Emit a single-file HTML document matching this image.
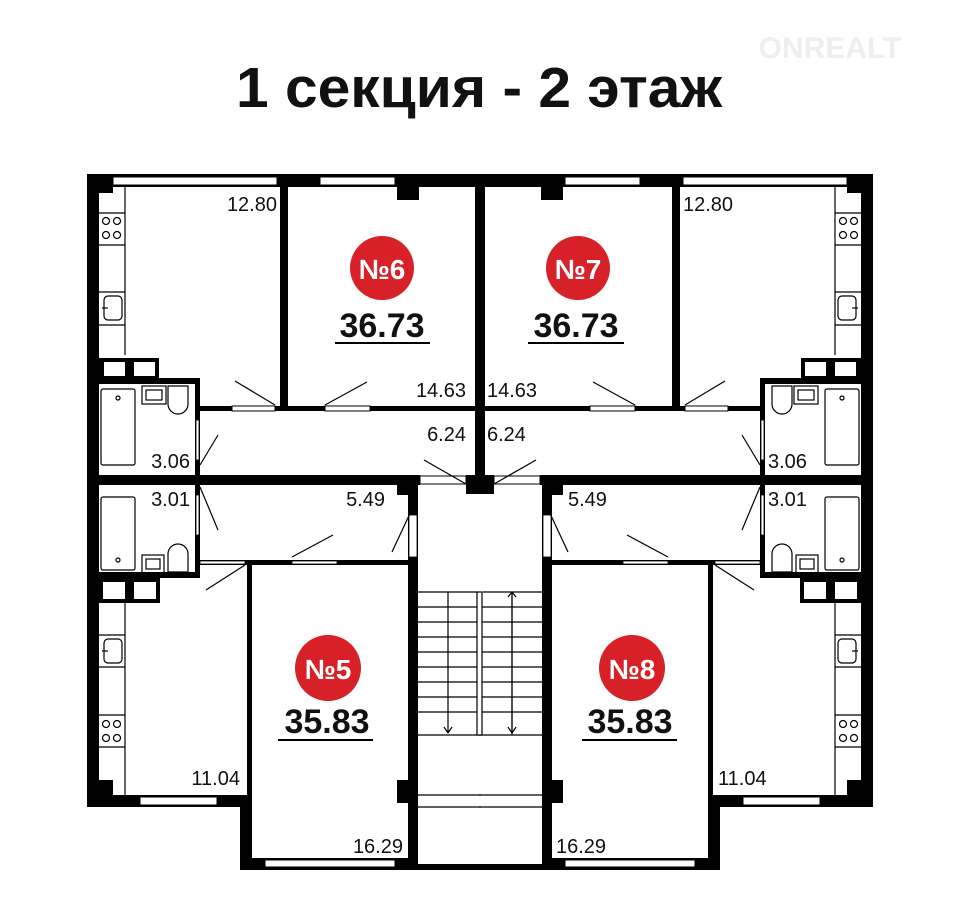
<!DOCTYPE html>
<html><head><meta charset="utf-8"><style>
html,body{margin:0;padding:0;background:#fff;}
svg{display:block;}
text{font-family:"Liberation Sans",sans-serif;}
</style></head><body>
<svg width="960" height="910" viewBox="0 0 960 910" xmlns="http://www.w3.org/2000/svg">
<rect width="960" height="910" fill="#fff"/>
<text x="479" y="107" text-anchor="middle" font-size="57" font-weight="bold" fill="#111" textLength="486" lengthAdjust="spacingAndGlyphs">1 секция - 2 этаж</text>
<text x="830" y="58" text-anchor="middle" font-size="30" font-weight="bold" fill="#eee">ONREALT</text>

<defs>
<g id="half" fill="#000" stroke="none">
  <rect x="87" y="174" width="394" height="13"/>
  <rect x="113" y="177" width="164" height="8" fill="#fff" stroke="#000" stroke-width="1"/>
  <rect x="320" y="177" width="75" height="8" fill="#fff" stroke="#000" stroke-width="1"/>
  <rect x="87" y="174" width="26" height="19"/>
  <rect x="397" y="174" width="22" height="26"/>
  <rect x="87" y="174" width="12" height="633"/>
  <rect x="280" y="174" width="8" height="236"/>
  <rect x="475" y="174" width="6" height="320"/>
  <rect x="466" y="475" width="15" height="19"/>
  <rect x="198" y="406" width="277" height="5"/>
  <rect x="232" y="406" width="43" height="5" fill="#fff" stroke="#000" stroke-width="1"/>
  <rect x="325" y="406" width="45" height="5" fill="#fff" stroke="#000" stroke-width="1"/>
  <rect x="87" y="475" width="333" height="10"/>
  <rect x="420" y="476" width="46" height="8" fill="#fff" stroke="#000" stroke-width="1"/>
  <rect x="99" y="358" width="60" height="22"/>
  <rect x="104" y="362" width="21" height="14" fill="#fff"/>
  <rect x="134" y="362" width="21" height="14" fill="#fff"/>
  <rect x="99" y="378" width="101" height="6"/>
  <rect x="195" y="380" width="5" height="105"/>
  <rect x="196" y="420" width="3" height="40" fill="#fff" stroke="#000" stroke-width="0.8"/>
  <rect x="195" y="485" width="5" height="93"/>
  <rect x="196" y="495" width="3" height="40" fill="#fff" stroke="#000" stroke-width="0.8"/>
  <rect x="87" y="572" width="113" height="6"/>
  <rect x="99" y="578" width="61" height="25"/>
  <rect x="103" y="582" width="22" height="17" fill="#fff"/>
  <rect x="134" y="582" width="22" height="17" fill="#fff"/>
  <rect x="200" y="560" width="208" height="5"/>
  <rect x="200" y="561" width="45" height="3" fill="#fff" stroke="#000" stroke-width="0.8"/>
  <rect x="292" y="561" width="45" height="3" fill="#fff" stroke="#000" stroke-width="0.8"/>
  <rect x="247" y="560" width="5" height="310"/>
  <rect x="408" y="485" width="10" height="385"/>
  <rect x="409" y="515" width="8" height="42" fill="#fff" stroke="#000" stroke-width="0.8"/>
  <rect x="397" y="485" width="21" height="10"/>
  <rect x="397" y="780" width="21" height="23"/>
  <rect x="240" y="858" width="178" height="12"/>
  <rect x="265" y="860" width="130" height="7" fill="#fff" stroke="#000" stroke-width="1"/>
  <rect x="240" y="795" width="12" height="75"/>
  <rect x="87" y="795" width="165" height="12"/>
  <rect x="140" y="797" width="77" height="8" fill="#fff" stroke="#000" stroke-width="1"/>
  <rect x="87" y="780" width="26" height="27"/>
  <rect x="418" y="864" width="63" height="6"/>
</g>
<g id="furn" fill="none" stroke="#000" stroke-width="1.2">
  <line x1="125" y1="187" x2="125" y2="355"/>
  <line x1="99" y1="213" x2="125" y2="213"/><line x1="99" y1="245" x2="125" y2="245"/>
  <circle cx="106" cy="221" r="3.5"/><circle cx="117" cy="221" r="3.5"/>
  <circle cx="106" cy="235" r="3.5"/><circle cx="117" cy="235" r="3.5"/>
  <line x1="99" y1="292" x2="125" y2="292"/><line x1="99" y1="325" x2="125" y2="325"/>
  <rect x="104" y="296" width="18" height="24" rx="4"/><line x1="102" y1="308" x2="108" y2="308"/>
  <line x1="125" y1="603" x2="125" y2="795"/>
  <line x1="99" y1="635" x2="125" y2="635"/><line x1="99" y1="667" x2="125" y2="667"/>
  <rect x="104" y="639" width="18" height="24" rx="4"/><line x1="102" y1="651" x2="108" y2="651"/>
  <line x1="99" y1="715" x2="125" y2="715"/><line x1="99" y1="747" x2="125" y2="747"/>
  <circle cx="106" cy="724" r="3.5"/><circle cx="117" cy="724" r="3.5"/>
  <circle cx="106" cy="738" r="3.5"/><circle cx="117" cy="738" r="3.5"/>
  <rect x="101" y="389" width="34" height="76" rx="2"/><circle cx="118" cy="398" r="2"/>
  <rect x="142" y="386" width="24" height="18"/><rect x="146" y="390" width="16" height="10"/>
  <path d="M168,386 h20 v18 a10,10 0 0 1 -20,0 z"/>
  <rect x="101" y="497" width="34" height="73" rx="2"/><circle cx="118" cy="560" r="2"/>
  <rect x="142" y="555" width="22" height="18"/><rect x="146" y="559" width="14" height="10"/>
  <path d="M168,572 h20 v-18 a10,10 0 0 0 -20,0 z"/>
  <line x1="235" y1="381" x2="275" y2="405"/>
  <line x1="325" y1="405" x2="367" y2="382"/>
  <line x1="200" y1="465" x2="218" y2="435"/>
  <line x1="200" y1="487" x2="218" y2="530"/>
  <line x1="413" y1="507" x2="392" y2="552"/>
  <line x1="292" y1="557" x2="333" y2="535"/>
  <line x1="206" y1="590" x2="245" y2="565"/>
  <line x1="424" y1="460" x2="466" y2="484"/>
  <line x1="418" y1="592" x2="477" y2="592"/>
  <line x1="448" y1="592" x2="448" y2="733"/>
  <line x1="444" y1="727" x2="448" y2="733"/><line x1="452" y1="727" x2="448" y2="733"/>
  <line x1="418" y1="795" x2="481" y2="795"/>
  <line x1="418" y1="807" x2="481" y2="807"/>
  <line x1="418" y1="735" x2="481" y2="735"/>
</g>
</defs>

<use href="#half"/>
<use href="#furn"/>
<g transform="translate(960,0) scale(-1,1)">
  <use href="#half"/>
  <use href="#furn"/>
</g>
<g stroke="#000" stroke-width="1.2">
  <line x1="418" y1="607" x2="543" y2="607"/><line x1="418" y1="622" x2="543" y2="622"/>
  <line x1="418" y1="637" x2="543" y2="637"/><line x1="418" y1="652" x2="543" y2="652"/>
  <line x1="418" y1="667" x2="543" y2="667"/><line x1="418" y1="682" x2="543" y2="682"/>
  <line x1="418" y1="697" x2="543" y2="697"/><line x1="418" y1="712" x2="543" y2="712"/>
  <rect x="477" y="592" width="5" height="143" fill="#fff"/>
  <line x1="512" y1="592" x2="512" y2="735"/>
  <line x1="508" y1="597" x2="512" y2="592"/><line x1="516" y1="597" x2="512" y2="592"/>
</g>

<g>
  <circle cx="382" cy="268" r="32" fill="#d82028"/>
  <text x="382" y="279" text-anchor="middle" font-size="28" font-weight="bold" fill="#fff">№6</text>
  <text x="382" y="337" text-anchor="middle" font-size="34" font-weight="bold" fill="#111">36.73</text>
  <line x1="335" y1="343" x2="430" y2="343" stroke="#000" stroke-width="2"/>
  <circle cx="578" cy="268" r="32" fill="#d82028"/>
  <text x="578" y="279" text-anchor="middle" font-size="28" font-weight="bold" fill="#fff">№7</text>
  <text x="576" y="337" text-anchor="middle" font-size="34" font-weight="bold" fill="#111">36.73</text>
  <line x1="528" y1="343" x2="624" y2="343" stroke="#000" stroke-width="2"/>
  <circle cx="328" cy="668" r="33" fill="#d82028"/>
  <text x="328" y="679" text-anchor="middle" font-size="28" font-weight="bold" fill="#fff">№5</text>
  <text x="327" y="733" text-anchor="middle" font-size="34" font-weight="bold" fill="#111">35.83</text>
  <line x1="278" y1="740" x2="373" y2="740" stroke="#000" stroke-width="2"/>
  <circle cx="632" cy="668" r="33" fill="#d82028"/>
  <text x="632" y="679" text-anchor="middle" font-size="28" font-weight="bold" fill="#fff">№8</text>
  <text x="630" y="733" text-anchor="middle" font-size="34" font-weight="bold" fill="#111">35.83</text>
  <line x1="582" y1="740" x2="677" y2="740" stroke="#000" stroke-width="2"/>
</g>

<g font-size="20" fill="#111">
  <text x="277" y="211" text-anchor="end">12.80</text>
  <text x="683" y="211">12.80</text>
  <text x="466" y="397" text-anchor="end">14.63</text>
  <text x="487" y="397">14.63</text>
  <text x="466" y="441" text-anchor="end">6.24</text>
  <text x="487" y="441">6.24</text>
  <text x="190" y="468" text-anchor="end">3.06</text>
  <text x="768" y="468">3.06</text>
  <text x="190" y="506" text-anchor="end">3.01</text>
  <text x="768" y="506">3.01</text>
  <text x="385" y="506" text-anchor="end">5.49</text>
  <text x="568" y="506">5.49</text>
  <text x="240" y="785" text-anchor="end">11.04</text>
  <text x="718" y="785">11.04</text>
  <text x="403" y="853" text-anchor="end">16.29</text>
  <text x="556" y="853">16.29</text>
</g>
</svg>
</body></html>
